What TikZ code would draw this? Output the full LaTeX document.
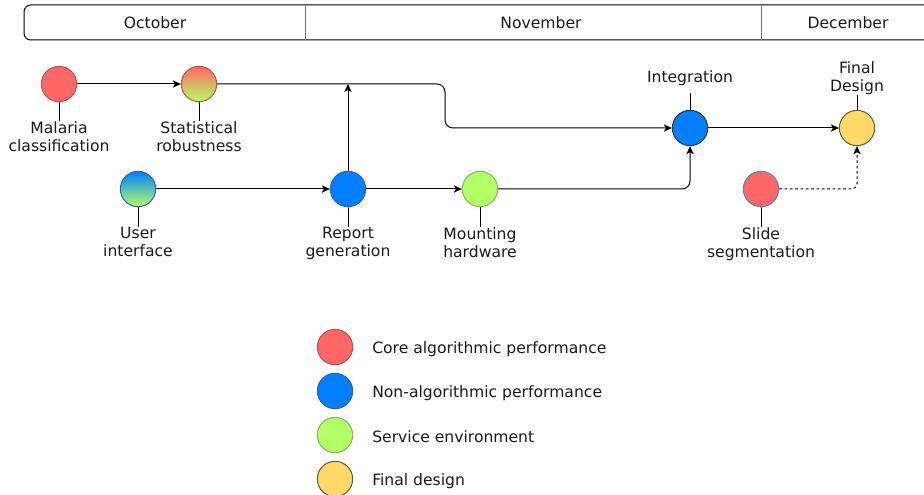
\documentclass[tikz,border=0pt]{standalone}
\usepackage{fontspec}
\setmainfont{DejaVu Sans}
\usetikzlibrary{arrows.meta}

\definecolor{redfill}{HTML}{FF6666}
\definecolor{redline}{HTML}{B85450}
\definecolor{bluefill}{HTML}{007FFF}
\definecolor{blueline}{HTML}{2F5FC4}
\definecolor{greenfill}{HTML}{B3FF66}
\definecolor{greenline}{HTML}{82B366}
\definecolor{yellowfill}{HTML}{FFD966}
\definecolor{yellowline}{HTML}{5E5A46}
\definecolor{txt}{HTML}{1A1A1A}

\tikzset{
  every node/.style={font=\fontsize{11.7pt}{13.5pt}\selectfont, text=txt},
  ms/.style={circle, minimum size=26.5pt, inner sep=0pt, line width=0.75pt},
  lbl/.style={align=center, inner sep=0pt},
  stem/.style={line width=0.75pt, draw=black},
  link/.style={line width=0.75pt, draw=black},
  arr/.style={link, -{Stealth[length=6pt, width=5.5pt, inset=1.5pt]}},
  key/.style={anchor=west, inner sep=0pt},
}

\begin{document}
\begin{tikzpicture}[x=0.75pt, y=-0.75pt]
\useasboundingbox (0,0) rectangle (924,495);

% month header
\draw[line width=0.75pt, rounded corners=5] (930,5) -- (24,5) -- (24,40) -- (930,40);
\draw[line width=0.5pt, draw=black!55] (305,5) -- (305,40) (761,5) -- (761,40);
\node (oct) at (155,23) {October};
\node (nov) at (541,23) {November};
\node (dec) at (848,23) {December};

% milestones
\node[ms, fill=redfill, draw=redline] (mal) at (59,84) {};
\node[ms, top color=redfill, bottom color=greenfill, draw=redline] (stat) at (199,84) {};
\node[ms, top color=bluefill, bottom color=greenfill, draw=blueline] (ui) at (138,189) {};
\node[ms, fill=bluefill, draw=blueline] (rep) at (348,189) {};
\node[ms, fill=greenfill, draw=greenline] (mount) at (480,189) {};
\node[ms, fill=bluefill, draw=black!80] (integ) at (690,128) {};
\node[ms, fill=yellowfill, draw=yellowline] (fin) at (857,128) {};
\node[ms, fill=redfill, draw=blueline!80] (slide) at (761,189) {};

% labels
\node[lbl, anchor=north] (malL) at (59,121) {Malaria\\classification};
\node[lbl, anchor=north] (statL) at (199,121) {Statistical\\robustness};
\node[lbl, anchor=north] (uiL) at (138,227) {User\\interface};
\node[lbl, anchor=north] (repL) at (348,227) {Report\\generation};
\node[lbl, anchor=north] (mountL) at (480,227) {Mounting\\hardware};
\node[lbl, anchor=north] (slideL) at (761,227) {Slide\\segmentation};
\node[lbl, anchor=south] (integL) at (690,86) {Integration};
\node[lbl, anchor=south] (finL) at (857,95) {Final\\Design};

\foreach \m in {mal,stat,ui,rep,mount,slide}
  \draw[stem] (\m.south) -- (\m L.north);
\draw[stem] (integ.north) -- (690,93);
\draw[stem] (fin.north) -- (857,95);

% dependencies
\coordinate (merge) at (348,84);
\draw[arr] (mal) -- (stat);
\draw[arr, rounded corners=6] (stat.east) -- (445,84) -- (445,128) -- (integ.west);
\draw[arr] (ui) -- (rep);
\draw[arr] (rep.north) -- (merge);
\draw[arr] (rep) -- (mount);
\draw[arr, rounded corners=6] (mount.east) -| (integ.south);
\draw[arr] (integ) -- (fin);
\draw[arr, dashed, dash pattern=on 2pt off 2pt, rounded corners=4] (slide.east) -| (fin.south);

% legend
\node[ms, fill=redfill, draw=redline] (k1) at (335,347) {};
\node[ms, fill=bluefill, draw=blueline] (k2) at (335,391) {};
\node[ms, fill=greenfill, draw=greenline] (k3) at (335,435) {};
\node[ms, fill=yellowfill, draw=yellowline] (k4) at (335,479) {};
\node[key] (t1) at (372,349) {Core algorithmic performance};
\node[key] (t2) at (372,393) {Non-algorithmic performance};
\node[key] (t3) at (372,437) {Service environment};
\node[key] (t4) at (372,481) {Final design};
\end{tikzpicture}
\end{document}
